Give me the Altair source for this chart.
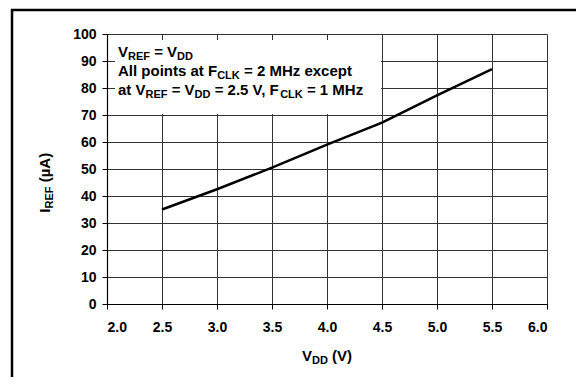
import altair as alt
import pandas as pd

# ---------------- data ----------------
vdd = [2.5, 3.0, 3.5, 4.0, 4.5, 5.0, 5.5]
iref = [35.0, 42.5, 50.5, 59.0, 67.2, 77.3, 87.0]
x_ticks = [2.0, 2.5, 3.0, 3.5, 4.0, 4.5, 5.0, 5.5, 6.0]
y_ticks = [0, 10, 20, 30, 40, 50, 60, 70, 80, 90, 100]

# text pieces: (text, is_subscript)
note_lines = [
    [("V", 0), ("REF", 1), (" = V", 0), ("DD", 1)],
    [("All points at F", 0), ("CLK", 1), (" = 2 MHz except", 0)],
    [("at V", 0), ("REF", 1), (" = V", 0), ("DD", 1), (" = 2.5 V, F", 0), ("CLK", 1), (" = 1 MHz", 0)],
]
x_title = [("V", 0), ("DD", 1), (" (V)", 0)]
y_title = [("I", 0), ("REF", 1), (" (µA)", 0)]

# ---------------- layout / style ----------------
W, H = 440, 270
PAD = {"left": 99, "top": 26, "right": 29, "bottom": 73}
FONT = "Liberation Sans"
F_MAIN = 15
F_SUB = 11
SUB_DY = 3
F_TICK = 14

# Arial/Liberation Sans Bold advance widths (per 1000 em)
AW = {' ': 278, '(': 333, ')': 333, ',': 278, '.': 278, '=': 584,
      'A': 722, 'C': 722, 'D': 722, 'E': 667, 'F': 611, 'H': 722, 'I': 278,
      'K': 722, 'L': 611, 'M': 833, 'R': 722, 'V': 667,
      'a': 556, 'c': 556, 'e': 556, 'i': 278, 'l': 278, 'n': 611, 'o': 611,
      'p': 611, 's': 556, 't': 333, 'x': 556, 'z': 500, 'µ': 611}
for d in "0123456789":
    AW[d] = 556


def tw(s, size):
    return sum(AW.get(c, 600) for c in s) * size / 1000.0


xs = alt.Scale(domain=[2, 6], nice=False, zero=False)
ys = alt.Scale(domain=[0, 100], nice=False)

axis_common = dict(
    title=None, grid=True, gridColor="#333333", gridWidth=1, gridOpacity=1,
    domainColor="black", domainWidth=1.2, tickColor="black", tickSize=5,
    labelFont=FONT, labelFontSize=F_TICK, labelFontWeight="bold",
    labelColor="black", labelOverlap=False,
)
ax_x = alt.Axis(values=x_ticks, format=".1f", labelPadding=11, **axis_common)
ax_y = alt.Axis(values=y_ticks, format="d", labelPadding=6, **axis_common)


def seg_layers(pieces, x, y, base_dx=0.0, base_dy=0.0, angle=0, center=False):
    total = sum(tw(t, F_SUB if s else F_MAIN) for t, s in pieces)
    off = -total / 2 if center else 0.0
    layers = []
    for t, s in pieces:
        size = F_SUB if s else F_MAIN
        stripped = t.lstrip(" ")
        lead = tw(t[: len(t) - len(stripped)], size)
        kw = dict(align="left", baseline="alphabetic", font=FONT,
                  fontWeight="bold", fontSize=size, color="black",
                  dx=base_dx + off + lead, dy=base_dy + (SUB_DY if s else 0))
        if angle:
            kw["angle"] = angle
        layers.append(
            alt.Chart(pd.DataFrame({"t": [stripped.rstrip(" ")]}))
            .mark_text(**kw)
            .encode(x=alt.XDatum(x, scale=xs, axis=ax_x),
                    y=alt.YDatum(y, scale=ys, axis=ax_y), text="t:N")
        )
        off += tw(t, size)
    return layers


df = pd.DataFrame({"vdd": vdd, "iref": iref})

line = alt.Chart(df).mark_line(color="black", strokeWidth=2.5).encode(
    x=alt.X("vdd:Q", scale=xs, axis=ax_x),
    y=alt.Y("iref:Q", scale=ys, axis=ax_y),
)

# white box behind the note (covers grid lines)
box = alt.Chart(pd.DataFrame({"a": [0]})).mark_rect(color="white").encode(
    x=alt.XDatum(2.073, scale=xs, axis=ax_x), x2=alt.datum(4.492),
    y=alt.YDatum(97.8, scale=ys, axis=ax_y), y2=alt.datum(70.4),
)

# outer frame of the figure (left and top edges)
frame_top = alt.Chart(pd.DataFrame({"a": [0]})).mark_rule(
    color="black", strokeWidth=2.5
).encode(x=alt.value(-96), x2=alt.value(W + PAD["right"]), y=alt.value(-24))
frame_left = alt.Chart(pd.DataFrame({"a": [0]})).mark_rule(
    color="black", strokeWidth=2.5
).encode(x=alt.value(-95), y=alt.value(-25), y2=alt.value(H + PAD["bottom"]))

note_y = [91.6, 84.3, 77.3]
texts = []
for pieces, yy in zip(note_lines, note_y):
    texts += seg_layers(pieces, 2.1, yy)

texts += seg_layers(x_title, 4.0, 0, base_dy=57, center=True)
texts += seg_layers(y_title, 2.0, 45.0, base_dy=-57, angle=270, center=True)

chart = alt.layer(box, line, frame_top, frame_left, *texts).properties(
    width=W, height=H,
    autosize=alt.AutoSizeParams(type="none"),
    padding=PAD,
).configure_view(stroke=None).configure_axis(zindex=0)

chart.save("out.html", embed_options={"renderer": "svg", "actions": False})
